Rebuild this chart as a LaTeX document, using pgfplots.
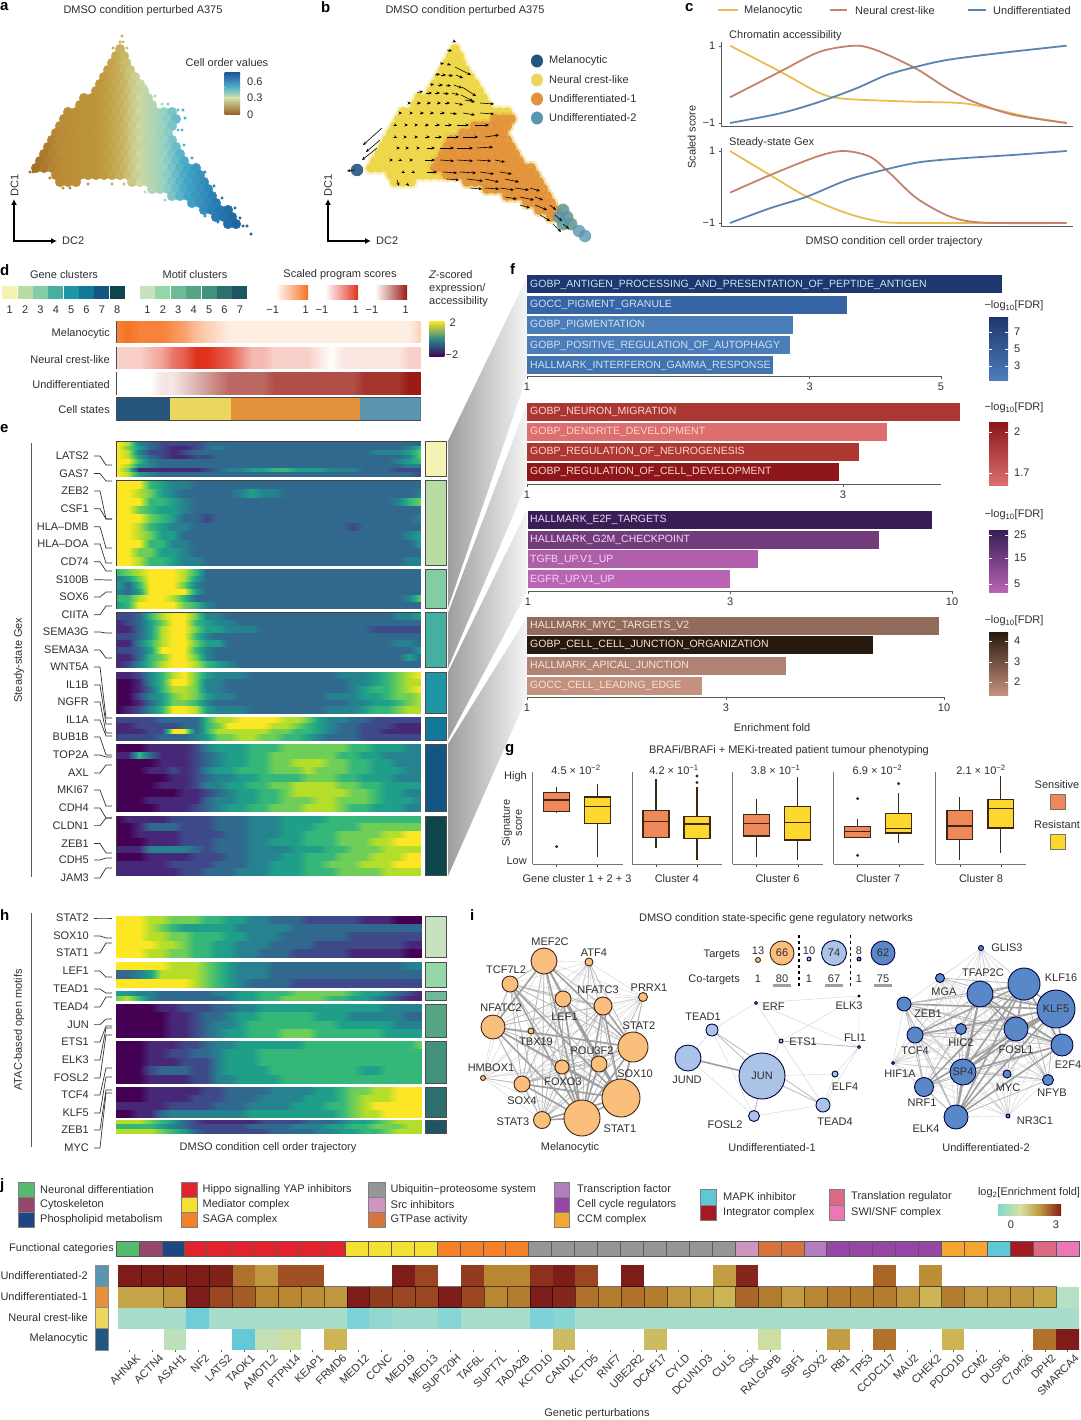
\documentclass[border=0pt]{standalone}
\usepackage{fontspec}
\setmainfont{Liberation Sans}
\usepackage{pgfplots}
\pgfplotsset{compat=1.18}
\usepgfplotslibrary{statistics}
\usetikzlibrary{arrows.meta}
\def\fs{\fontsize{11}{13}\selectfont}
\definecolor{fa1}{RGB}{30,55,110}\definecolor{fa2}{RGB}{55,100,165}\definecolor{fa3}{RGB}{75,125,185}\definecolor{fa4}{RGB}{65,115,175}
\definecolor{fb1}{RGB}{170,55,50}\definecolor{fb2}{RGB}{220,110,110}\definecolor{fb3}{RGB}{175,55,50}\definecolor{fb4}{RGB}{140,22,25}
\definecolor{fc1}{RGB}{55,30,85}\definecolor{fc2}{RGB}{115,60,125}\definecolor{fc3}{RGB}{175,95,170}\definecolor{fc4}{RGB}{185,100,180}
\definecolor{fd1}{RGB}{145,108,92}\definecolor{fd2}{RGB}{40,25,15}\definecolor{fd3}{RGB}{175,130,115}\definecolor{fd4}{RGB}{195,145,125}
\pgfplotsset{
 every tick label/.append style={font=\fs,text=black!80},
 pan/.style n args={4}{scale only axis,anchor=north west,at={(#1pt,-#2pt)},width=#3pt,height=#4pt},
 colormap={vir}{rgb255=(68,1,84) rgb255=(71,39,119) rgb255=(62,73,137) rgb255=(49,104,142) rgb255=(38,130,142) rgb255=(31,158,137) rgb255=(53,183,121) rgb255=(110,206,88) rgb255=(181,222,43) rgb255=(253,231,37)},
 colormap={co}{rgb255(30pt)=(160,105,40) rgb255(60pt)=(185,140,55) rgb255(100pt)=(190,150,60) rgb255(120pt)=(200,175,90) rgb255(140pt)=(205,215,160) rgb255(165pt)=(150,210,195) rgb255(185pt)=(70,170,200) rgb255(215pt)=(40,125,180) rgb255(250pt)=(25,85,145)},
 colormap={so}{rgb255=(255,253,250) rgb255=(245,115,35)},
 colormap={sr}{rgb255=(255,253,250) rgb255=(225,50,30)},
 colormap={sd}{rgb255=(255,255,255) rgb255=(155,28,20)},
 colormap={ef}{rgb255(0pt)=(255,255,255) rgb255(95pt)=(255,255,255) rgb255(96pt)=(100,200,215) rgb255(100pt)=(100,200,215) rgb255(110pt)=(125,210,215) rgb255(125pt)=(155,218,205) rgb255(135pt)=(180,225,200) rgb255(180pt)=(205,222,165) rgb255(240pt)=(205,180,85) rgb255(300pt)=(185,135,50) rgb255(350pt)=(160,80,35) rgb255(400pt)=(125,28,25)},
 hm/.style n args={5}{pan={#1}{#2}{#3}{#4},xmin=1,xmax=28,ymin=0,ymax=#5,y dir=reverse,ticks=none,colormap name=vir,point meta min=0,point meta max=9,axis line style={black!75,line width=1pt}},
 st/.style n args={3}{pan={116.7}{#1}{304}{#2},xmin=1,xmax=28,ymin=0,ymax=1,ticks=none,colormap name=#3,point meta min=0,point meta max=9,axis line style={black!70,line width=1pt}},
 lgx/.style={x coord trafo/.code={\pgfmathparse{log10(##1)}}},
 fx/.style n args={5}{pan={#1}{#2}{#3}{#4},lgx,xmin=1,xmax=#5,ymin=-#2-#4,ymax=-#2,axis x line=bottom,axis y line=none,clip=false,axis line style={-,black!65,line width=.8pt},major tick length=3pt,tick style={black!65},tick align=outside},
 fb/.style={xbar,bar shift=0pt,bar width=18pt,draw=none,fill=#1},
 gx/.style={pan={#1}{771.7}{90}{92.6},xmin=.415,xmax=2.61,ymin=0,ymax=9.26,axis x line=bottom,axis y line=left,axis line style={-,black!55,line width=.9pt},xtick={1,2},xticklabels={,},ytick=\empty,major tick length=3pt,tick style={black!70},tick align=outside,boxplot/draw direction=y,boxplot/box extend=.63,boxplot/whisker extend=0,clip=false},
 bs/.style={boxplot prepared={draw position=1,#1},fill=cSen,draw=bk,line width=1.3pt,mark=*,mark size=.7pt},
 br/.style={boxplot prepared={draw position=2,#1},fill=cRes,draw=bk,line width=1.3pt,mark=*,mark size=.7pt},
 ptsa/.style={scatter,only marks,mark=*,mark size=#1pt,point meta=x,scatter/use mapped color={draw=mapped color,fill=mapped color}},
 solid pts/.style n args={3}{only marks,mark=*,mark size=#1pt,mark options={draw=#2,fill=#2,opacity=#3}},
 eA/.style={gray!35,line width=.4pt},
 eB/.style={gray!55,line width=.8pt},
 eC/.style={gray!75,line width=1.6pt},
 nn/.style n args={2}{only marks,mark=*,scatter,line width=.9pt,point meta=y,visualization depends on={\thisrow{r}\as\rad},scatter/use mapped color={draw=#2,fill=#1},scatter/@pre marker code/.append style={/tikz/mark size=\rad}},
 cax/.style n args={6}{pan={721.7}{#1}{351.3}{#2},xmin=-.0247,xmax=1.0187,ymin=#3,ymax=#4,axis y line=left,axis x line=bottom,axis line style={-,black!65,line width=.8pt},xtick=\empty,ytick={-1,1},yticklabels={−1,1},clip=false,major tick length=3pt,tick style={black!65},tick align=outside},
}
\definecolor{bk}{RGB}{60,38,20}\definecolor{cSen}{RGB}{238,135,90}\definecolor{cRes}{RGB}{252,215,45}
\definecolor{cY}{RGB}{232,190,80}\definecolor{cB}{RGB}{198,130,108}\definecolor{cU}{RGB}{90,132,178}
\definecolor{sN}{RGB}{35,85,125}\definecolor{sY}{RGB}{235,215,95}\definecolor{sO}{RGB}{228,145,60}\definecolor{sT}{RGB}{90,150,175}
\definecolor{bY}{RGB}{238,215,75}\definecolor{nO}{RGB}{250,190,125}\definecolor{nL}{RGB}{170,195,230}\definecolor{nB}{RGB}{90,135,200}
\definecolor{k1}{RGB}{86,186,110}\definecolor{k2}{RGB}{150,70,105}\definecolor{k3}{RGB}{30,70,130}\definecolor{k4}{RGB}{225,35,45}\definecolor{k5}{RGB}{245,225,50}\definecolor{k6}{RGB}{245,130,40}\definecolor{k7}{RGB}{150,150,150}\definecolor{k8}{RGB}{205,150,190}\definecolor{k9}{RGB}{215,115,60}\definecolor{k10}{RGB}{180,125,190}\definecolor{k11}{RGB}{150,70,165}\definecolor{k12}{RGB}{245,165,50}\definecolor{k13}{RGB}{95,200,215}\definecolor{k14}{RGB}{165,25,35}\definecolor{k15}{RGB}{220,105,130}\definecolor{k16}{RGB}{235,120,180}
% heat rows
\newcount\hn
\newcommand\hs{\gdef\hc{}\global\hn=0 }
\newcommand\hr[1]{\global\advance\hn by 1 \foreach \v [count=\ci] in {#1}{\xdef\hc{\hc (\ci,\the\numexpr\hn-1\relax) [\v]}}\foreach \v [count=\ci] in {#1}{\xdef\hc{\hc (\ci,\the\hn) [\v]}}}
\newcommand\hq[1]{\global\advance\hn by 1 \foreach \v [count=\ci] in {#1}{\xdef\hc{\hc (\ci,\the\hn) [\v]}}}
\newcommand\he[1]{\edef\tmp{\noexpand\addplot[surf,shader=interp,mesh/cols=#1,point meta=explicit] coordinates {\hc};}\tmp}
\newcommand\hj[1]{\edef\tmp{\noexpand\addplot[matrix plot*,mesh/cols=#1,point meta=explicit] coordinates {\hc};}\tmp}
\newcommand\rw[2]{\foreach \xx in {#2}{\xdef\cur{\cur (\xx,#1)}}}
% cell map points: DC2 / DC1 as picture offsets
\gdef\cur{}
\rw{49}{120}\rw{56}{116,124}\rw{63}{112,120,126}\rw{70}{108,116,124,130}\rw{77}{104,112,120,128,135}
\rw{84}{100,108,116,124,132,140}\rw{91}{96,104,112,120,128,136,144}\rw{98}{84,92,100,108,116,124,132,140,148}
\rw{105}{80,88,96,104,112,120,128,136,144,152}\rw{112}{68,76,84,92,100,108,116,124,132,140,148,156,164,172}
\rw{119}{64,72,80,88,96,104,112,120,128,136,144,152,160,168,176}
\rw{126}{60,68,76,84,92,100,108,116,124,132,140,148,156,164,172}
\rw{133}{56,64,72,80,88,96,104,112,120,128,136,144,152,160,168}
\rw{140}{52,60,68,76,84,92,100,108,116,124,132,140,148,156,164,172}
\rw{147}{48,56,64,72,80,88,96,104,112,120,128,136,144,152,160,168,176}
\rw{154}{44,52,60,68,76,84,92,100,108,116,124,132,140,148,156,164,172,180}
\rw{161}{40,48,56,64,72,80,88,96,104,112,120,128,136,144,152,160,168,176,184}
\rw{168}{36,44,52,60,68,76,84,92,100,108,116,124,132,140,148,156,164,172,180,188,196}
\rw{175}{56,64,72,80,88,96,104,112,120,128,136,144,152,160,168,176,184,192,200}
\rw{182}{60,68,76,132,140,148,156,164,172,180,188,196,204}
\rw{189}{152,160,168,176,184,192,200,208}\rw{196}{172,180,188,196,204,212}\rw{203}{192,200,208,216}\rw{210}{204,212,220,228}\rw{217}{216,224,232}\rw{224}{228,236}
\global\let\ptsA\cur
\gdef\cur{}
\rw{36}{122}\rw{42}{120,123}\rw{48}{113,127}\rw{60}{129}\rw{68}{133}\rw{76}{138}\rw{86}{146}\rw{96}{155}\rw{104}{162,168}\rw{110}{178,183}\rw{118}{185}\rw{130}{178,182}\rw{145}{184}\rw{158}{192}\rw{172}{205}\rw{186}{214}\rw{198}{222}\rw{208}{235}\rw{218}{240}\rw{226}{243,247}\rw{234}{251}\rw{172}{30,33}\rw{178}{50}\rw{188}{63,70}\rw{184}{88,112,124}\rw{192}{145}\rw{200}{165}\rw{216}{205}\rw{222}{218}
\global\let\ptsS\cur
\gdef\cur{}
\rw{119}{160,168,176}\rw{126}{140,148,156,164,172}\rw{133}{128,136,144,152,160,168}\rw{140}{116,124,132,140,148,156,164,172}
\rw{147}{112,120,128,136,144,152,160,168,176}\rw{154}{108,116,124,132,140,148,156,164,172,180}
\rw{161}{104,112,120,128,136,144,152,160,168,176,184}\rw{168}{100,108,116,124,132,140,148,156,164,172,180,188,196}
\rw{175}{112,120,128,136,144,152,160,168,176,184,192,200}\rw{182}{132,140,148,156,164,172,180,188,196,204}
\rw{189}{152,160,168,176,184,192,200,208}\rw{196}{172,180,188,196,204,212}\rw{203}{192,200,208,216}\rw{210}{204,212,220}\rw{217}{216}
\global\let\ptsO\cur
\gdef\cur{}
\rw{210}{228}\rw{217}{224,232}\rw{224}{228,236}\rw{231}{244}\rw{236}{250}
\global\let\ptsT\cur
% network edges
\newcommand\mkedges[1]{\gdef\eA{}\gdef\eB{}\gdef\eC{}%
 \foreach \xa/\ya/\ra [count=\i] in {#1}{\foreach \xb/\yb/\rb [count=\j] in {#1}{%
  \ifnum\i<\j\relax
   \pgfmathtruncatemacro\pr{\ra*\rb}%
   \ifnum\pr>125 \xdef\eC{\eC (\xa,\ya)(\xb,\yb)(nan,nan)}\else
   \ifnum\pr>55 \xdef\eB{\eB (\xa,\ya)(\xb,\yb)(nan,nan)}\else
   \xdef\eA{\eA (\xa,\ya)(\xb,\yb)(nan,nan)}\fi\fi
  \fi}}}
\mkedges{544/961/13,589/962/4,510/984/8,643/997/4,563/999/8,603/1006/9,493/1027/12,531/1031/3,633/1047/15,599/1064/8,562/1067/7,483/1078/3,522/1084/8,621/1098/19,582/1118/18,542/1120/8}
\global\let\mA\eA\global\let\mB\eB\global\let\mC\eC
\mkedges{981/948/2,940/978/4,980/994/13,1024/984/16,904/1004/7,1056/1009/19,961/1029/5,1016/1029/12,915/1035/8,1062/1045/11,893/1063/2,963/1072/13,1007/1074/4,1048/1080/5,924/1087/9,1008/1116/2,956/1117/12}
\global\let\uA\eA\global\let\uB\eB\global\let\uC\eC
% j grid
\gdef\gridc{(2.5,2.5)(41.5,2.5)(41.5,3.5)(2.5,3.5)(2.5,2.5)(nan,nan)(.5,3.5)(5.5,3.5)(5.5,4.5)(nan,nan)}
\foreach \c in {3.5,4.5,...,40.5}{\xdef\gridc{\gridc(\c,2.5)(\c,3.5)(nan,nan)}}
\foreach \c in {1.5,2.5,3.5,4.5}{\xdef\gridc{\gridc(\c,3.5)(\c,4.5)(nan,nan)}}
\begin{document}
\begin{tikzpicture}
\useasboundingbox (0,0) rectangle (1080pt,-1420pt);
% wedges
\begin{scope}[x=1pt,y=-1pt]
\shade[left color=black!38,right color=black!4] (448,441)--(527,277)--(527,376)--(448,608)--cycle;
\shade[left color=black!38,right color=black!4] (448,613)--(527,403)--(527,483)--(448,668)--cycle;
\shade[left color=black!38,right color=black!4] (448,672)--(527,510)--(527,592)--(448,740)--cycle;
\shade[left color=black!38,right color=black!4] (448,744)--(527,617)--(527,697)--(448,876)--cycle;
\end{scope}
%% a
\begin{axis}[pan={0}{30}{260}{210},xmin=0,xmax=260,ymin=30,ymax=240,y dir=reverse,hide axis,clip=false,colormap name=co,point meta min=30,point meta max=250]
\edef\tmp{\noexpand\addplot[ptsa=4.8] coordinates {\ptsA};\noexpand\addplot[ptsa=1.4] coordinates {\ptsS};}\tmp
\end{axis}
%% b
\begin{axis}[pan={335}{30}{260}{210},xmin=0,xmax=260,ymin=30,ymax=240,y dir=reverse,hide axis,clip=false]
\edef\tmp{\noexpand\addplot[solid pts={7}{bY}{.25}] coordinates {\ptsA};\noexpand\addplot[solid pts={4.8}{bY}{1}] coordinates {\ptsA};\noexpand\addplot[solid pts={7}{sO}{.15}] coordinates {\ptsO};\noexpand\addplot[solid pts={4.8}{sO}{.85}] coordinates {\ptsO};\noexpand\addplot[solid pts={6}{sT}{.8}] coordinates {\ptsT};}\tmp
\addplot[solid pts={6}{sN}{.9}] coordinates {(22,170)};
\end{axis}
\begin{axis}[pan={335}{30}{260}{210},xmin=0,xmax=260,ymin=30,ymax=240,y dir=reverse,hide axis,clip=false]
\addplot[quiver={u=\thisrow{u},v=\thisrow{v},every arrow/.append style={-{Stealth[length=3.5pt,width=3pt]}}},black,line width=.6pt] table {
x y u v
118 41 3 1
112 50 5 1
105 64 4 -1
112 64 4 1
120 67 16 8
100 75 5 -1
106 75 5 0
113 75 5 1
121 75 7 3
95 85 4 -1
103 85 5 0
111 85 5 1
119 85 8 3
127 87 14 9
82 93 6 -2
91 93 6 0
100 93 5 0
108 93 6 1
117 93 7 2
126 95 12 6
73 103 3 0
82 103 4 0
92 103 4 0
102 103 4 0
110 103 5 0
120 103 8 2
130 100 10 2
145 103 14 1
65 113 2 0
75 113 3 0
85 113 4 0
95 113 4 0
105 113 5 0
115 113 7 1
128 113 12 2
145 113 14 1
47 128 -19 17
60 125 2 1
70 125 3 0
80 125 3 0
90 125 4 0
100 125 5 0
110 125 7 0
122 125 12 0
140 125 14 0
45 140 -14 12
60 137 2 1
70 137 2 0
80 137 3 0
90 137 5 0
100 137 7 0
112 137 12 0
128 137 15 0
150 137 14 -2
42 148 -15 12
62 148 3 0
72 148 2 0
82 148 3 0
92 148 8 0
105 148 14 0
122 148 16 0
142 148 16 -1
20 170 -8 1
55 160 3 0
65 160 2 1
75 160 3 0
90 160 10 0
105 160 14 1
122 160 16 1
142 160 14 1
160 160 10 2
68 172 2 1
78 172 2 1
92 172 10 0
108 172 14 1
125 172 16 1
145 172 14 2
165 172 12 2
62 180 2 6
72 184 2 2
112 179 12 1
132 179 16 2
150 179 14 3
170 179 14 3
135 188 12 1
150 188 14 1
165 188 14 2
180 188 14 2
195 188 10 3
170 197 12 2
185 197 14 3
200 197 8 3
185 205 10 3
200 205 12 5
215 205 6 5
205 215 10 6
220 215 7 6
218 224 8 8
228 224 6 5
};
\end{axis}
%% c
\begin{axis}[cax={42.5}{84.2}{-1.096}{1.083}{}{}]
\addplot[cY,line width=1.8pt,smooth] coordinates {(0,1)(.149,.33)(.248,-.147)(.297,-.32)(.366,-.39)(.545,-.45)(.693,-.49)(.792,-.66)(.891,-.85)(1,-1)};
\addplot[cB,line width=1.8pt,smooth] coordinates {(0,-.336)(.149,.33)(.267,.845)(.376,1)(.446,.845)(.554,.4)(.644,-.1)(.723,-.45)(.842,-.79)(1,-1)};
\addplot[cU,line width=1.8pt,smooth] coordinates {(0,-1)(.149,-.75)(.267,-.45)(.376,-.1)(.465,.24)(.554,.457)(.644,.63)(.792,.8)(1,1)};
\end{axis}
\begin{axis}[cax={148}{78.7}{-1.103}{1.083}{}{}]
\addplot[cY,line width=1.8pt,smooth] coordinates {(0,1)(.119,.33)(.228,-.27)(.347,-.73)(.446,-.96)(.545,-1)(1,-1)};
\addplot[cB,line width=1.8pt,smooth] coordinates {(0,-.157)(.119,.33)(.257,.84)(.337,1)(.416,.84)(.475,.38)(.554,-.31)(.653,-.82)(.752,-.99)(1,-1)};
\addplot[cU,line width=1.8pt,smooth] coordinates {(0,-1)(.119,-.59)(.228,-.27)(.347,.19)(.455,.47)(.564,.69)(.693,.8)(.842,.89)(1,1)};
\end{axis}
%% d strips
\begin{axis}[st={321}{21.7}{so}]\hs\hr{8,9,8,8,8,7,6,4,3,2,1,1,1,1,1,1,1,1,1,1,1,1,1,1,1,1,1,3}\he{28}\end{axis}
\begin{axis}[st={347.3}{21}{sr}]\hs\hr{2,2,2,3,4,6,7,9,9,8,7,5,3,3,2,2,2,2,1,0,1,1,1,1,1,1,2,2}\he{28}\end{axis}
\begin{axis}[st={372.3}{21.7}{sd}]\hs\hr{0,0,0,0,1,1,2,3,4,5,6,6,6,6,7,7,7,7,7,7,7,7,8,8,8,8,9,9}\he{28}\end{axis}
\begin{axis}[pan={116.7}{397.7}{304}{22.3},xmin=0,xmax=304,ymin=0,ymax=1,ticks=none,xbar stacked,bar width=22.3pt,bar shift=0pt,axis line style={black!70,line width=1pt}]
\addplot[fill=sN,draw=none] coordinates {(53,.5)};
\addplot[fill=sY,draw=none] coordinates {(61,.5)};
\addplot[fill=sO,draw=none] coordinates {(129.3,.5)};
\addplot[fill=sT,draw=none] coordinates {(60.7,.5)};
\end{axis}
%% e
\begin{axis}[hm={116.7}{441.7}{304}{35}{8}]\hs
\hr{9,8,4,3,2,2,2,2,3,3,3,3,3,3,3,3,3,3,3,3,3,3,3,3,3,3,3,3}
\hr{9,7,5,3,2,1,1,2,3,4,3,3,3,3,3,3,3,3,3,3,3,3,3,3,3,3,4,6}
\hr{9,8,4,2,2,1,2,3,3,3,3,3,3,3,3,3,3,3,3,3,3,3,3,4,4,4,5,7}
\hr{9,8,5,3,2,1,1,2,2,3,3,3,3,3,3,3,3,3,3,3,3,3,3,3,3,3,4,7}
\hr{9,9,6,4,3,3,3,3,3,3,3,3,3,3,3,3,3,3,3,3,3,3,3,3,3,4,5,6}
\hr{9,8,5,4,3,3,3,3,3,3,3,3,3,3,3,3,3,3,3,3,3,3,3,3,3,3,4,4}
\hr{9,7,1,1,1,1,1,1,2,3,4,4,5,5,6,6,5,5,5,4,4,4,3,3,3,2,2,2}
\hr{9,8,5,4,3,3,3,3,3,3,3,3,3,3,3,3,3,3,3,3,3,3,3,3,3,3,3,2}
\he{28}\end{axis}
\begin{axis}[hm={116.7}{480.7}{304}{84.3}{10}]\hs
\hr{9,9,9,6,5,4,4,3,3,3,3,3,3,3,3,3,3,3,3,3,3,3,3,3,3,3,3,3}
\hr{9,9,8,7,5,4,3,3,3,3,3,4,5,4,4,3,3,3,3,3,3,3,3,3,3,3,3,4}
\hr{9,9,9,6,6,5,4,3,3,3,3,3,3,3,3,3,3,3,3,3,3,3,3,3,3,4,6,7}
\hr{9,9,7,6,5,5,4,3,3,3,3,3,3,3,3,3,3,3,3,3,3,3,3,3,3,3,3,3}
\hr{9,9,9,7,6,5,3,3,2,3,3,3,3,3,3,3,3,3,3,3,3,3,3,3,3,3,3,4}
\hr{9,9,8,6,5,4,4,3,3,3,3,3,3,3,3,3,3,3,3,3,3,2,3,3,3,3,3,3}
\hr{9,9,8,7,5,5,3,3,3,3,3,3,3,3,3,3,3,3,3,3,3,3,3,3,3,3,4,5}
\hr{9,9,9,6,6,4,4,3,3,3,3,3,3,3,3,3,3,3,3,3,3,3,3,3,3,3,3,5}
\hr{9,9,7,7,5,5,4,3,3,3,3,3,3,3,3,3,3,3,3,3,3,3,3,3,3,3,3,3}
\hr{9,9,8,6,6,5,4,4,3,3,3,3,3,3,3,3,3,3,3,3,3,3,3,3,3,3,4,4}
\he{28}\end{axis}
\begin{axis}[hm={116.7}{569.3}{304}{39}{6}]\hs
\hr{6,7,8,9,9,9,8,6,3,3,3,3,3,3,3,3,3,3,3,3,3,3,3,3,3,3,3,3}
\hr{4,5,7,9,9,9,8,5,3,3,3,3,3,3,3,3,3,3,3,3,3,3,3,3,3,3,3,3}
\hr{5,3,6,9,9,9,7,4,3,3,3,3,3,3,3,3,3,3,3,3,3,3,3,3,3,3,3,3}
\hr{4,3,5,9,9,9,9,5,3,3,3,3,3,3,3,3,3,3,3,3,3,3,3,3,3,3,3,3}
\hr{6,6,8,9,9,8,6,3,3,3,3,3,3,3,3,3,3,3,3,3,3,3,3,3,3,3,4,7}
\hr{5,6,9,9,9,9,7,6,4,3,3,3,3,3,3,3,3,3,3,3,3,3,3,3,3,3,3,3}
\he{28}\end{axis}
\begin{axis}[hm={116.7}{612.7}{304}{55}{8}]\hs
\hr{2,2,3,6,8,9,9,7,4,4,3,3,3,3,3,3,3,3,3,3,3,3,3,3,3,4,4,5}
\hr{1,2,3,5,7,9,9,6,5,4,4,3,3,3,3,3,3,3,3,3,3,3,3,3,3,3,3,3}
\hr{1,1,3,5,8,9,9,7,5,5,4,4,4,3,3,3,3,3,3,3,3,3,3,2,2,2,2,2}
\hr{2,2,3,5,8,9,9,6,4,3,3,3,3,3,3,3,3,3,3,3,3,3,3,3,3,3,3,3}
\hr{1,1,4,6,8,9,9,7,5,5,3,3,3,3,3,3,3,3,3,3,3,3,3,3,3,4,4,3}
\hr{2,2,3,5,9,9,9,6,4,3,3,3,3,3,3,3,3,3,3,3,3,3,3,3,3,3,3,5}
\hr{1,1,3,6,7,9,9,7,4,3,3,3,3,3,3,3,3,3,3,3,3,3,3,3,3,3,5,3}
\hr{1,2,4,6,8,9,9,8,6,5,4,3,3,3,3,3,3,3,3,3,3,3,3,3,3,3,3,3}
\he{28}\end{axis}
\begin{axis}[hm={116.7}{672.3}{304}{41}{6}]\hs
\hr{1,1,2,4,6,8,9,7,5,4,4,4,3,3,3,3,3,3,3,3,4,4,4,5,6,7,8,9}
\hr{0,0,1,4,6,9,9,7,4,4,3,3,3,3,3,3,3,3,3,3,3,4,4,5,6,7,8,8}
\hr{0,0,1,3,6,8,8,7,4,4,3,3,3,3,3,3,3,3,3,3,3,4,5,6,6,7,8,9}
\hr{0,0,2,4,5,7,8,7,5,4,4,3,3,3,3,3,3,3,3,4,4,4,5,5,6,7,7,8}
\hr{0,0,1,3,5,7,7,6,4,3,3,3,3,3,3,3,3,3,3,3,3,4,4,5,5,6,7,8}
\hr{0,1,2,4,6,9,9,8,5,4,4,4,3,3,3,3,3,3,3,4,4,4,5,6,6,7,8,8}
\he{28}\end{axis}
\begin{axis}[hm={116.7}{717.3}{304}{22.7}{4}]\hs
\hr{2,2,2,2,3,3,3,3,6,8,8,9,9,9,9,8,8,7,5,4,4,3,3,2,2,2,2,2}
\hr{1,1,2,2,2,2,3,3,6,7,9,9,9,9,8,8,7,6,5,4,3,3,2,2,2,1,1,1}
\hr{1,1,1,2,2,9,9,3,6,8,8,8,8,8,7,7,6,6,5,4,3,3,2,2,1,1,1,1}
\hr{2,2,2,2,3,3,3,4,5,7,7,8,8,7,7,6,6,5,4,3,3,3,2,2,2,2,2,2}
\he{28}\end{axis}
\begin{axis}[hm={116.7}{744}{304}{67.7}{9}]\hs
\hr{0,0,0,1,1,1,1,2,4,5,5,5,6,6,6,7,7,7,7,7,7,6,6,5,5,5,4,4}
\hr{1,1,6,3,1,1,1,2,3,4,5,5,6,6,7,7,7,7,7,7,6,6,5,5,4,4,4,4}
\hr{0,0,0,0,1,1,1,2,3,4,5,5,6,6,7,7,8,8,8,7,7,6,6,5,5,4,4,4}
\hr{0,0,0,1,1,2,1,2,4,5,5,6,6,6,7,7,7,8,7,7,7,6,6,5,5,5,4,4}
\hr{0,0,0,0,0,1,1,2,3,4,4,5,5,6,6,6,6,7,7,7,6,6,5,5,5,4,4,4}
\hr{0,0,0,0,1,1,1,2,4,4,5,5,6,6,7,7,8,8,8,8,7,7,6,6,5,5,5,5}
\hr{0,0,0,0,0,0,1,1,2,3,4,5,5,6,6,7,8,8,8,8,8,7,7,6,5,5,4,4}
\hr{0,0,0,1,1,1,1,1,3,4,4,5,5,6,6,7,7,7,8,8,7,7,7,6,5,5,5,4}
\hr{0,0,0,0,1,1,1,2,3,4,5,5,6,6,7,7,7,8,8,8,7,6,6,5,5,5,4,4}
\he{28}\end{axis}
\begin{axis}[hm={116.7}{816}{304}{59.7}{8}]\hs
\hr{0,1,1,1,1,2,2,2,2,3,3,3,4,4,4,5,5,5,5,6,6,6,6,6,6,6,6,6}
\hr{0,0,1,3,3,3,2,2,2,3,3,3,4,4,4,5,5,5,6,6,6,6,7,7,7,7,7,7}
\hr{0,0,1,1,1,1,2,2,2,2,3,3,4,4,4,5,5,6,6,6,7,7,7,7,8,8,9,9}
\hr{0,0,0,1,1,1,2,2,2,3,3,3,4,4,5,5,5,6,6,6,7,7,7,8,8,9,9,9}
\hr{1,1,1,4,4,4,4,3,2,3,3,3,4,4,4,4,5,5,5,6,6,7,7,7,8,8,8,8}
\hr{0,0,0,1,1,1,1,2,2,2,3,3,4,4,4,5,5,6,6,6,7,7,7,8,8,8,9,9}
\hr{1,1,1,1,1,2,2,2,2,3,3,3,4,4,5,5,5,6,6,7,7,7,8,8,8,9,9,9}
\hr{1,1,1,1,1,1,2,2,3,3,3,4,4,4,5,5,5,6,6,6,7,7,7,7,8,8,8,8}
\he{28}\end{axis}
%% h
\begin{axis}[hm={116}{916}{305}{41}{5}]\hs
\hr{9,9,9,8,8,7,7,7,6,6,5,5,4,4,3,3,3,2,2,2,2,2,1,1,1,0,0,0}
\hr{9,9,9,8,7,6,5,5,5,5,5,4,4,4,4,4,3,3,3,3,3,3,3,3,3,3,3,3}
\hr{9,9,9,8,8,7,7,6,6,6,5,5,4,4,4,3,3,3,3,3,3,2,2,2,2,2,2,2}
\hr{9,9,9,9,8,8,7,6,6,5,5,4,4,4,3,3,3,3,2,2,2,2,2,2,2,2,1,1}
\hr{9,9,9,8,8,7,7,6,6,5,5,4,4,3,3,3,2,2,2,2,2,1,1,1,1,1,0,0}
\he{28}\end{axis}
\begin{axis}[hm={116}{962}{305}{25}{3}]\hs
\hr{9,9,9,9,9,8,8,8,7,6,5,4,4,4,3,3,3,3,3,3,3,3,3,3,3,3,4,4}
\hr{3,3,4,5,8,8,8,8,7,6,5,4,4,4,3,3,3,3,3,3,3,3,3,3,3,3,3,3}
\hr{9,9,9,9,9,9,9,8,7,6,5,4,3,3,3,3,2,2,2,2,2,2,2,2,2,2,2,2}
\he{28}\end{axis}
\begin{axis}[hm={116}{991}{305}{9}{2}]\hs
\hr{5,5,4,4,3,3,3,3,3,4,4,5,5,6,6,6,7,7,7,7,7,6,5,5,4,3,2,1}
\hr{7,8,6,4,3,3,3,3,3,3,4,5,5,6,6,7,7,7,7,6,6,5,5,4,3,2,1,1}
\he{28}\end{axis}
\begin{axis}[hm={116}{1004}{305}{33}{4}]\hs
\hr{0,0,0,0,1,1,2,2,2,3,3,4,4,5,5,5,5,5,5,5,5,5,5,5,4,4,4,4}
\hr{0,0,0,0,0,1,1,2,3,3,4,5,5,6,6,6,6,6,5,5,5,4,4,4,4,4,3,3}
\hr{0,0,0,0,0,1,1,2,3,4,4,5,6,6,6,6,6,6,6,6,5,5,5,5,5,4,4,4}
\hr{0,0,0,0,0,1,1,2,3,4,5,5,6,6,6,7,7,7,6,6,6,6,6,6,5,5,5,5}
\he{28}\end{axis}
\begin{axis}[hm={116}{1041}{305}{42}{5}]\hs
\hr{0,0,0,1,1,1,2,2,3,4,4,5,5,5,5,5,5,6,6,6,6,6,6,6,6,6,6,7}
\hr{0,0,0,1,1,2,2,3,3,4,5,5,5,6,6,6,6,6,6,6,6,6,6,6,6,6,6,6}
\hr{0,0,0,1,1,1,2,2,2,4,5,5,5,6,6,6,6,6,6,6,6,6,6,6,6,6,6,6}
\hr{0,0,0,2,3,3,3,2,2,4,5,5,5,5,6,6,6,6,6,6,6,6,5,5,6,6,6,6}
\hr{0,0,0,1,1,1,1,2,2,4,4,5,5,5,5,6,6,6,6,6,6,6,6,6,6,6,6,6}
\he{28}\end{axis}
\begin{axis}[hm={116}{1087}{305}{30}{4}]\hs
\hr{0,0,0,1,1,1,1,1,2,2,3,3,3,3,4,4,4,4,5,5,6,7,7,8,8,9,9,9}
\hr{0,0,0,1,1,1,1,2,2,2,3,3,3,4,4,4,4,5,5,5,6,7,8,8,8,9,9,9}
\hr{1,1,1,1,1,2,2,2,2,3,3,3,4,4,4,4,5,5,5,6,6,7,8,9,9,9,9,9}
\hr{0,0,1,1,3,4,4,4,4,4,4,4,5,5,5,5,5,5,5,5,6,7,8,8,9,9,9,9}
\he{28}\end{axis}
\begin{axis}[hm={116}{1120}{305}{13}{3}]\hs
\hr{8,8,8,7,6,5,3,2,1,1,1,1,1,2,2,2,2,3,3,3,4,5,5,6,7,8,8,8}
\hr{6,6,6,6,5,4,3,2,2,2,2,2,3,3,3,3,4,4,4,5,5,6,6,7,7,7,8,8}
\hr{8,8,8,8,7,6,5,3,2,2,2,2,2,2,3,3,3,3,4,4,5,5,6,6,7,8,8,8}
\he{28}\end{axis}
%% f
\begin{axis}[fx={527}{275}{414}{101}{5},xtick={1,3,5},xticklabels={1,3,5}]
\addplot[fb=fa1] coordinates {(6.34,-284)};
\addplot[fb=fa2] coordinates {(3.47,-305)};
\addplot[fb=fa3] coordinates {(2.81,-325)};
\addplot[fb=fa3] coordinates {(2.78,-345)};
\addplot[fb=fa4] coordinates {(2.60,-365)};
\end{axis}
\begin{axis}[fx={527}{402}{414}{82}{4.22},xtick={1,3},xticklabels={1,3}]
\addplot[fb=fb1] coordinates {(4.51,-411.5)};
\addplot[fb=fb2] coordinates {(3.50,-431.5)};
\addplot[fb=fb3] coordinates {(3.17,-452)};
\addplot[fb=fb4] coordinates {(2.96,-471.5)};
\end{axis}
\begin{axis}[fx={528}{510}{424}{81}{10},xtick={1,3,10},xticklabels={1,3,10}]
\addplot[fb=fc1] coordinates {(8.97,-519.7)};
\addplot[fb=fc2] coordinates {(6.72,-540)};
\addplot[fb=fc3] coordinates {(3.48,-559)};
\addplot[fb=fc4] coordinates {(2.99,-579)};
\end{axis}
\begin{axis}[fx={527}{616}{417}{81}{10},xtick={1,3,10},xticklabels={1,3,10}]
\addplot[fb=fd1] coordinates {(9.73,-626)};
\addplot[fb=fd2] coordinates {(6.75,-645)};
\addplot[fb=fd3] coordinates {(4.17,-666)};
\addplot[fb=fd4] coordinates {(2.63,-686)};
\end{axis}
%% g
\begin{axis}[gx=532.6]
\addplot[bs={lower whisker=5.17,lower quartile=5.27,median=6.43,upper quartile=7.2,upper whisker=7.77}] coordinates {(0,1.77)};
\addplot[br={lower whisker=.7,lower quartile=4.1,median=5.8,upper quartile=6.73,upper whisker=8}] coordinates {};
\end{axis}
\begin{axis}[gx=632]
\addplot[bs={lower whisker=1.67,lower quartile=2.7,median=4.27,upper quartile=5.37,upper whisker=8.5}] coordinates {};
\addplot[br={lower whisker=.43,lower quartile=2.57,median=4.03,upper quartile=4.8,upper whisker=7.77}] coordinates {(0,8.17)(0,8.83)};
\end{axis}
\begin{axis}[gx=732.6]
\addplot[bs={lower whisker=.7,lower quartile=2.83,median=4.1,upper quartile=4.97,upper whisker=6.5}] coordinates {};
\addplot[br={lower whisker=.43,lower quartile=2.43,median=4.17,upper quartile=5.77,upper whisker=8.77}] coordinates {};
\end{axis}
\begin{axis}[gx=833.6]
\addplot[bs={lower whisker=2.67,lower quartile=2.67,median=3.27,upper quartile=3.77,upper whisker=4.57}] coordinates {(0,6.57)(0,.9)};
\addplot[br={lower whisker=2.1,lower quartile=3.13,median=3.57,upper quartile=5.07,upper whisker=7.1}] coordinates {(0,8.07)};
\end{axis}
\begin{axis}[gx=935.8]
\addplot[bs={lower whisker=.43,lower quartile=2.5,median=3.83,upper quartile=5.37,upper whisker=6.7}] coordinates {};
\addplot[br={lower whisker=1.17,lower quartile=3.63,median=5.6,upper quartile=6.5,upper whisker=8.83}] coordinates {};
\end{axis}
%% i
\begin{axis}[pan={470}{925}{610}{220},xmin=470,xmax=1080,ymin=925,ymax=1145,y dir=reverse,hide axis,clip=false,unbounded coords=jump]
\edef\tmp{\noexpand\addplot[eA] coordinates {\mA};\noexpand\addplot[eB] coordinates {\mB};\noexpand\addplot[eC] coordinates {\mC};\noexpand\addplot[eA] coordinates {\uA};\noexpand\addplot[eB] coordinates {\uB};\noexpand\addplot[eC] coordinates {\uC};}\tmp
\addplot[eA] coordinates {(712,1030)(688,1058)(nan,nan)(712,1030)(756,1003)(nan,nan)(756,1003)(781,1041)(nan,nan)(756,1003)(823,1105)(nan,nan)(781,1041)(859,996)(nan,nan)(859,996)(859,1047)(nan,nan)(859,1047)(835,1074)(nan,nan)(859,1047)(823,1105)(nan,nan)(823,1105)(835,1074)(nan,nan)(754,1116)(823,1105)(nan,nan)(688,1058)(754,1116)(nan,nan)(712,1030)(754,1116)(nan,nan)(756,1003)(859,996)(nan,nan)(756,1003)(859,1047)(nan,nan)(762,1076)(835,1074)(nan,nan)(762,1076)(781,1041)};
\addplot[eB] coordinates {(762,1076)(712,1030)(nan,nan)(762,1076)(823,1105)(nan,nan)(762,1076)(754,1116)(nan,nan)(712,1030)(823,1105)(nan,nan)(781,1041)(859,1047)};
\addplot[eC] coordinates {(762,1076)(688,1058)};
\addplot[gray!75,line width=3pt] coordinates {(773,985)(791,985)(nan,nan)(825,985)(843,985)(nan,nan)(874,985)(892,985)};
\addplot[black,line width=1.2pt,dashed] coordinates {(799,935)(799,987)(nan,nan)(850.5,935)(850.5,987)};
\addplot[nn={nO}{bk}] table {
x y r
544 961 13
589 962 4
510 984 8
643 997 4.5
563 999 8
603 1006 9
493 1027 12
531 1031 3
633 1047 15
599 1064 8
562 1067 7
483 1078 2.5
522 1084 8
621 1098 19
582 1118 18
542 1120 8.5
758 960 2.5
782 953 12
};
\addplot[nn={nL}{black!75!blue}] table {
x y r
756 1003 1.5
859 996 1
712 1030 6
781 1041 2
859 1047 1.5
688 1058 13
762 1076 23
835 1074 3
823 1105 7
754 1116 5.5
809 959 2
834 953 12.5
};
\addplot[nn={nB}{black!75!blue}] table {
x y r
981 948 2.5
940 978 4.5
980 994 13
1024 984 16
904 1004 7
1056 1009 19
961 1029 5.5
1016 1029 12
915 1035 8
1062 1045 11
893 1063 1.5
963 1072 13
1007 1074 4
1048 1080 5.5
924 1087 9.5
1008 1116 2
956 1117 12
859 959 2
883 953 12
};
\end{axis}
%% j strip
\begin{axis}[pan={116}{1241.5}{963}{14.5},xmin=.5,xmax=42.5,ymin=0,ymax=1,hide axis,clip=false]
\pgfplotsset{every axis plot/.append style={ybar,bar width=22.93pt,bar shift=0pt,draw=black!65,line width=.6pt}}
\addplot[fill=k1] coordinates {(1,1)};
\addplot[fill=k2] coordinates {(2,1)};
\addplot[fill=k3] coordinates {(3,1)};
\addplot[fill=k4] coordinates {(4,1)(5,1)(6,1)(7,1)(8,1)(9,1)(10,1)};
\addplot[fill=k5] coordinates {(11,1)(12,1)(13,1)(14,1)};
\addplot[fill=k6] coordinates {(15,1)(16,1)(17,1)(18,1)};
\addplot[fill=k7] coordinates {(19,1)(20,1)(21,1)(22,1)(23,1)(24,1)(25,1)(26,1)(27,1)};
\addplot[fill=k8] coordinates {(28,1)};
\addplot[fill=k9] coordinates {(29,1)(30,1)};
\addplot[fill=k10] coordinates {(31,1)};
\addplot[fill=k11] coordinates {(32,1)(33,1)(34,1)(35,1)(36,1)};
\addplot[fill=k12] coordinates {(37,1)(38,1)};
\addplot[fill=k13] coordinates {(39,1)};
\addplot[fill=k14] coordinates {(40,1)};
\addplot[fill=k15] coordinates {(41,1)};
\addplot[fill=k16] coordinates {(42,1)};
\end{axis}
%% j heat
\begin{axis}[pan={118}{1265}{961}{84},xmin=.5,xmax=42.5,ymin=.5,ymax=4.5,colormap name=ef,point meta min=-1,point meta max=3,axis x line*=bottom,axis y line*=left,axis line style={-,black!50,line width=1pt},ytick=\empty,xtick={1,2,...,42},xticklabels={AHNAK,ACTN4,ASAH1,NF2,LATS2,TAOK1,AMOTL2,PTPN14,KEAP1,FRMD6,MED12,CCNC,MED19,MED13,SUPT20H,TAF6L,SUPT7L,TADA2B,KCTD10,CAND1,KCTD5,RNF7,UBE2R2,DCAF17,CYLD,DCUN1D3,CUL5,CSK,RALGAPB,SBF1,SOX2,RB1,TP53,CCDC117,MAU2,CHEK2,PDCD10,CCM2,DUSP6,C7orf26,DPH2,SMARCA4},x tick label style={rotate=45,anchor=north east,xshift=7pt,yshift=-2pt},major tick length=3pt,tick style={black!60},tick align=outside,unbounded coords=jump]
\hs
\hq{-1,-1,.5,-1,-1,0,.6,.8,-1,1.4,-1,-1,-1,-1,-1,-1,-1,-1,-1,1.3,-1,-1,-1,1.3,-1,-1,-1,-1,.8,-1,-1,1.7,-1,2.2,-1,-1,1.4,-1,-1,-1,2.2,3}
\hq{.3,.3,.3,.05,.3,.3,.3,.3,.3,.3,.1,.2,.25,.25,.15,.3,.3,.3,.1,.15,.3,.3,.3,.3,.3,.3,.3,.3,.3,.3,.3,.3,.3,.3,.3,.3,.3,.3,.3,.3,.3,.3}
\hq{1.6,1.6,1.8,3,2.6,2.4,2,2,1.9,1.8,3,2.7,2.6,2.6,3,2.6,2,2.1,3,2.9,2.2,2.1,2.2,2.1,1.8,1.6,1.4,2.3,2.1,1.7,2,2.1,2.1,2.1,1.8,1.4,2.1,1.8,1.8,1.8,1.6,.4}
\hq{3,3,2.95,3,2.95,2.2,1.8,2.5,2.5,-1,-1,-1,3,2.6,-1,2.7,2,2,2.8,3,2.6,-1,3,-1,-1,-1,1.7,2.9,-1,-1,-1,-1,-1,2.3,-1,1.9,-1,-1,-1,-1,-1,-1}
\hj{42}
\edef\tmp{\noexpand\addplot[black,opacity=.55,line width=.6pt] coordinates {\gridc};}\tmp
\end{axis}
%% everything not data: text, swatches
\begin{scope}[x=1pt,y=-1pt,every node/.style={inner sep=0pt,font=\fs,text=black!82}]
\newcommand\Tc[3]{\node at (#1,#2) {#3};}
\newcommand\Te[3]{\node[anchor=east] at (#1,#2) {#3};}
\newcommand\Tw[3]{\node[anchor=west] at (#1,#2) {#3};}
\newcommand\Tb[3]{\node[anchor=west,font=\fontsize{15}{15}\selectfont\bfseries,text=black] at (#1,#2) {#3};}
\newcommand\sw[5]{\filldraw[fill=#5,draw=black!55,line width=.6pt] (#1,#2) rectangle (#3,#4);}
\Tb{0}{7}{a}\Tb{321}{7}{b}\Tb{685}{8}{c}\Tb{0}{270}{d}\Tb{0}{429}{e}\Tb{510}{269}{f}\Tb{505}{750}{g}\Tb{0}{915}{h}\Tb{470}{915}{i}\Tb{0}{1186}{j}
\Tc{143}{11}{DMSO condition perturbed A375}\Tc{465}{11}{DMSO condition perturbed A375}
\Tc{227}{63}{Cell order values}
\shade[top color={rgb,255:red,30;green,90;blue,160},bottom color={rgb,255:red,90;green,180;blue,200}] (224.5,73) rectangle (240,88);
\shade[top color={rgb,255:red,90;green,180;blue,200},bottom color={rgb,255:red,210;green,225;blue,170}] (224.5,88) rectangle (240,98);
\shade[top color={rgb,255:red,210;green,225;blue,170},bottom color={rgb,255:red,150;green,90;blue,30}] (224.5,98) rectangle (240,115);
\Tw{247}{82}{0.6}\Tw{247}{98}{0.3}\Tw{247}{115}{0}
\foreach \ox in {14,328}{\draw[black,line width=1.1pt,{Latex[length=6pt,width=6pt]}-{Latex[length=6pt,width=6pt]}] (\ox,199)--(\ox,241)--(\ox+43,241);}
\Tw{62}{241}{DC2}\Tw{376}{241}{DC2}
\node[rotate=90] at (14.5,185) {DC1};\node[rotate=90] at (328,185) {DC1};
\foreach \yy/\cc/\tt in {61/sN/Melanocytic,80/sY/Neural crest-like,99/sO/Undifferentiated-1,118/sT/Undifferentiated-2}{\fill[\cc] (537,\yy) ellipse (6pt and 6.5pt);\node[anchor=west] at (549,\yy) {\tt};}
% c
\draw[cY,line width=1.8pt] (718,10.3)--(738,10.3);\Tw{744}{10.3}{Melanocytic}
\draw[cB,line width=1.8pt] (830,10.3)--(847,10.3);\Tw{855}{10.3}{Neural crest-like}
\draw[cU,line width=1.8pt] (968,10.3)--(986,10.3);\Tw{993}{10.3}{Undifferentiated}
\Tw{729}{35.7}{Chromatin accessibility}\Tw{729}{142.7}{Steady-state Gex}
\node[rotate=90] at (691.7,137) {Scaled score};
\Tc{894}{241.7}{DMSO condition cell order trajectory}
% d
\Tc{64}{275}{Gene clusters}\Tc{195}{275}{Motif clusters}\Tc{340}{275}{Scaled program scores}
\Tw{429}{275}{\itshape Z\upshape-scored}\Tw{429}{288.7}{expression/}\Tw{429}{301.7}{accessibility}
\foreach \i/\c in {0/{245,243,180},1/{185,220,165},2/{130,205,165},3/{70,175,160},4/{30,150,165},5/{20,120,155},6/{20,85,130},7/{15,70,75}}{\pgfmathsetmacro\xx{2.3+15.34*\i}\definecolor{tmpc}{RGB}{\c}\fill[tmpc] (\xx,286) rectangle ++(15,13.3);\pgfmathtruncatemacro\n{\i+1}\node at (\xx+7.5,309.5) {\n};}
\foreach \i/\c in {0/{200,225,190},1/{150,215,170},2/{110,185,150},3/{85,165,130},4/{65,145,125},5/{45,110,110},6/{30,85,100}}{\pgfmathsetmacro\xx{140+15.4*\i}\definecolor{tmpc}{RGB}{\c}\fill[tmpc] (\xx,286) rectangle ++(15,13.3);\pgfmathtruncatemacro\n{\i+1}\node at (\xx+7.5,309.5) {\n};}
\shade[left color=white,right color={rgb,255:red,245;green,115;blue,35}] (275,286) rectangle (308,299.3);
\shade[left color=white,right color={rgb,255:red,225;green,50;blue,30}] (325,286) rectangle (358,299.3);
\shade[left color=white,right color={rgb,255:red,155;green,28;blue,20}] (375,286) rectangle (407,299.3);
\Tc{272.7}{309.5}{−1}\Tc{305.7}{309.5}{1}\Tc{322}{309.5}{−1}\Tc{355.7}{309.5}{1}\Tc{372}{309.5}{−1}\Tc{405.7}{309.5}{1}
\Te{110}{334}{Melanocytic}\Te{110}{359.5}{Neural crest-like}\Te{110}{385}{Undifferentiated}\Te{110}{409.5}{Cell states}
\shade[top color={rgb,255:red,253;green,231;blue,37},bottom color={rgb,255:red,38;green,130;blue,142}] (429.3,321) rectangle (444.3,340);
\shade[top color={rgb,255:red,38;green,130;blue,142},bottom color={rgb,255:red,68;green,1;blue,84}] (429.3,340) rectangle (444.3,356.7);
\Tc{452.7}{323}{2}\Tc{452}{355}{−2}
% side strips e,h
\foreach \a/\b/\c in {441.7/476.7/{245,243,180},480.7/565/{185,220,165},569.3/608.3/{130,205,165},612.7/667.7/{70,175,160},672.3/713.3/{30,150,165},717.3/740/{20,120,155},744/811.7/{20,85,130},816/875.7/{15,70,75},916/957/{200,225,190},962/987/{150,215,170},991/1000/{110,185,150},1004/1037/{85,165,130},1041/1083/{65,145,125},1087/1117/{45,110,110},1120/1133/{30,85,100}}{\definecolor{tmpc}{RGB}{\c}\filldraw[fill=tmpc,draw=black!70,line width=.9pt] (425,\a) rectangle (446.5,\b);}
% gene labels with connectors
\foreach \n/\l/\t in {LATS2/456/465,GAS7/473.5/481,ZEB2/491/519,CSF1/508.7/519,HLA--DMB/526.7/548,HLA--DOA/544/563,CD74/561.7/571,S100B/579.7/580,SOX6/597/592,CIITA/614.7/606,SEMA3G/632/633,SEMA3A/650/658,WNT5A/667/718,IL1B/685/724,NGFR/702/733,IL1A/720/736,BUB1B/737/755,TOP2A/755/757,AXL/773/765,MKI67/790/806,CDH4/808/818,CLDN1/825.6/818,ZEB1/843.5/853,CDH5/860/858,JAM3/878/868,STAT2/918/918,SOX10/936/938,STAT1/953/943,LEF1/971/977,TEAD1/989/993,TEAD4/1007/997,JUN/1024.6/1019,ETS1/1042/1026,ELK3/1060/1028,FOSL2/1078/1035,TCF4/1095/1068,KLF5/1113/1077,ZEB1/1130/1090,MYC/1148/1093}{\node[anchor=east] at (89,\l) {\n};\draw[black!80,line width=.7pt] (94,\l)--(100,\l)--(106,\t)--(112,\t);}
\draw[black!65,line width=.8pt] (31,443)--(31,877);\draw[black!65,line width=.8pt] (31,913)--(31,1147);
\node[rotate=90] at (19,660) {Steady-state Gex};\node[rotate=90] at (19,1030) {ATAC-based open motifs};
\Tc{268}{1148}{DMSO condition cell order trajectory}
% f labels
\newcommand\Fl[3]{\node[anchor=west,text=#3] at (530,#1) {\fontsize{10.5}{12}\selectfont #2};}
\definecolor{la}{RGB}{205,225,245}\definecolor{lb}{RGB}{250,215,210}\definecolor{lc}{RGB}{240,215,245}\definecolor{ld}{RGB}{245,230,215}
\Fl{284.5}{GOBP\_ANTIGEN\_PROCESSING\_AND\_PRESENTATION\_OF\_PEPTIDE\_ANTIGEN}{la}
\Fl{305}{GOCC\_PIGMENT\_GRANULE}{la}\Fl{325}{GOBP\_PIGMENTATION}{la}\Fl{345.5}{GOBP\_POSITIVE\_REGULATION\_OF\_AUTOPHAGY}{la}\Fl{365.5}{HALLMARK\_INTERFERON\_GAMMA\_RESPONSE}{la}
\Fl{411.5}{GOBP\_NEURON\_MIGRATION}{lb}\Fl{431.5}{GOBP\_DENDRITE\_DEVELOPMENT}{lb}\Fl{452}{GOBP\_REGULATION\_OF\_NEUROGENESIS}{lb}\Fl{471.5}{GOBP\_REGULATION\_OF\_CELL\_DEVELOPMENT}{lb}
\Fl{519.7}{HALLMARK\_E2F\_TARGETS}{lc}\Fl{540}{HALLMARK\_G2M\_CHECKPOINT}{lc}\Fl{559.5}{TGFB\_UP.V1\_UP}{lc}\Fl{579.5}{EGFR\_UP.V1\_UP}{lc}
\Fl{626}{HALLMARK\_MYC\_TARGETS\_V2}{ld}\Fl{645}{GOBP\_CELL\_CELL\_JUNCTION\_ORGANIZATION}{ld}\Fl{666}{HALLMARK\_APICAL\_JUNCTION}{ld}\Fl{686}{GOCC\_CELL\_LEADING\_EDGE}{ld}
\Tc{772}{728}{Enrichment fold}
\foreach \yy in {306,408,515,621}{\Tc{1014}{\yy}{−log\textsubscript{10}[FDR]}}
\shade[top color=fa1,bottom color=fa3] (989,317) rectangle (1008,380);
\shade[top color=fb4,bottom color=fb2] (989,422) rectangle (1008,485);
\shade[top color=fc1,bottom color=fc4] (989,530) rectangle (1008,592);
\shade[top color=fd2,bottom color=fd4] (989,632) rectangle (1008,695);
\foreach \yy/\vv in {332/7,349/5,366/3,432/2,473/1.7,535/25,558/15,584/5,641/4,662/3,682/2}{\draw[white,line width=.5pt] (989,\yy)--(992,\yy) (1005,\yy)--(1008,\yy);\node[anchor=west] at (1014,\yy) {\vv};}
% g text
\Tc{789}{751}{BRAFi/BRAFi + MEKi-treated patient tumour phenotyping}
\foreach \xx/\mm/\ee in {576/4.5/2,674/4.2/1,775.6/3.8/1,877.4/6.9/2,981/2.1/2}{\node at (\xx,770) {\mm{} × 10\textsuperscript{−\ee}};}
\Tc{577}{879}{Gene cluster 1 + 2 + 3}\Tc{676.8}{879}{Cluster 4}\Tc{777.5}{879}{Cluster 6}\Tc{878}{879}{Cluster 7}\Tc{981}{879}{Cluster 8}
\Te{527}{777}{High}\Te{527}{861}{Low}
\node[rotate=90] at (507,823) {Signature};\node[rotate=90] at (519,823) {score};
\Tc{1057}{785}{Sensitive}\Tc{1057}{825}{Resistant}
\sw{1050}{794}{1065}{809}{cSen}\sw{1050}{834}{1065}{849}{cRes}
% i text
\Tc{776}{919}{DMSO condition state-specific gene regulatory networks}
\Tc{570}{1148}{Melanocytic}\Tc{772}{1148}{Undifferentiated-1}\Tc{986}{1148}{Undifferentiated-2}
\Te{740}{955}{Targets}\Te{740}{980}{Co-targets}
\foreach \xx/\tt in {758/13,782/66,809/10,834/74,859/8,883/62}{\node at (\xx,\ifnum\tt<14 951\else 953\fi) {\tt};}
\foreach \xx/\tt in {758/1,782/80,809/1,834/67,859/1,883/75}{\node at (\xx,979) {\tt};}
\foreach \xx/\yy/\tt in {550/942/MEF2C,594/953/ATF4,506/970/TCF7L2,649/988/PRRX1,598/990/NFATC3,564.5/1017/LEF1,501/1008/NFATC2,536/1042/TBX19,639/1026/STAT2,592/1051/POU3F2,563/1082/FOXO3,491/1068/HMBOX1,522/1101/SOX4,635/1074/SOX10,620/1129/STAT1,513/1122/STAT3,773.5/1007/ERF,849/1006/ELK3,703/1017/TEAD1,803/1042/ETS1,855/1038/FLI1,687/1080/JUND,762/1076/JUN,845/1087/ELF4,835/1122/TEAD4,725/1125/FOSL2,1007/948/GLIS3,944/992/MGA,983/973/TFAP2C,1061/978/KLF16,928/1014/ZEB1,1056/1009/KLF5,961/1043/HIC2,1016/1050/FOSL1,915/1051/TCF4,1068/1065/E2F4,900/1074/HIF1A,963/1072/SP4,1008/1088/MYC,1052/1093/NFYB,922/1103/NRF1,1035/1121/NR3C1,926/1129/ELK4}{\node at (\xx,\yy) {\tt};}
% j legend
\foreach \xa/\xb/\ya/\yb/\cc/\xt/\tt in {18.6/34.6/1182.3/1197.3/k1/40/Neuronal differentiation,18.6/34.6/1197.3/1212.3/k2/40/Cytoskeleton,18.6/34.6/1212.3/1227/k3/40/Phospholipid metabolism,181.4/197/1182.3/1197.3/k4/202.5/Hippo signalling YAP inhibitors,181.4/197/1197.3/1212.3/k5/202.5/Mediator complex,181.4/197/1212.3/1227/k6/202.5/SAGA complex,368.6/385/1182.3/1197.3/k7/390.5/Ubiquitin−proteosome system,368.6/385/1197.3/1212.3/k8/390.5/Src inhibitors,368.6/385/1212.3/1227/k9/390.5/GTPase activity,553.8/569/1182.3/1197.3/k10/577/Transcription factor,553.8/569/1197.3/1212.3/k11/577/Cell cycle regulators,553.8/569/1212.3/1227/k12/577/CCM complex,700.7/716.5/1189/1205/k13/723/MAPK inhibitor,700.7/716.5/1205/1220.7/k14/723/Integrator complex,829/844.5/1189/1205/k15/851/Translation regulator,829/844.5/1205/1220.7/k16/851/{SWI/SNF complex}}{\filldraw[fill=\cc,draw=black!50,line width=.5pt] (\xa,\ya) rectangle (\xb,\yb);\node[anchor=west] at (\xt,{(\ya+\yb)/2}) {\tt};}
\Tc{1029}{1193}{log\textsubscript{2}[Enrichment fold]}
\shade[left color={rgb,255:red,130;green,215;blue,205},right color={rgb,255:red,215;green,225;blue,160}] (998,1204) rectangle (1020,1215);
\shade[left color={rgb,255:red,215;green,225;blue,160},right color={rgb,255:red,190;green,150;blue,60}] (1020,1204) rectangle (1040,1215);
\shade[left color={rgb,255:red,190;green,150;blue,60},right color={rgb,255:red,130;green,30;blue,25}] (1040,1204) rectangle (1061,1215);
\Tc{1011}{1225}{0}\Tc{1056}{1225}{3}
\Te{114}{1249}{Functional categories}\Tc{597}{1414}{Genetic perturbations}
\foreach \a/\b/\c/\tt in {1265/1286/sT/Undifferentiated-2,1286/1307.5/sO/Undifferentiated-1,1307.5/1328/sY/Neural crest-like,1328/1350/sN/Melanocytic}{\filldraw[fill=\c,draw=black!45,line width=.5pt] (95,\a) rectangle (108,\b);\node[anchor=east] at (88,{(\a+\b)/2}) {\tt};}
\end{scope}
\end{tikzpicture}
\end{document}
